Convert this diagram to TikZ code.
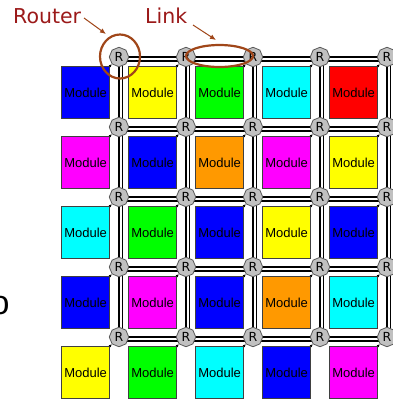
\documentclass[tikz,border=0pt]{standalone}
\usepackage{fontspec}
\setmainfont{Liberation Sans}
\newfontfamily\dejavu{DejaVu Sans}
\usetikzlibrary{shapes.geometric,arrows.meta,backgrounds}
\definecolor{mblue}{RGB}{0,0,255}
\definecolor{myellow}{RGB}{255,255,0}
\definecolor{mgreen}{RGB}{0,255,0}
\definecolor{mcyan}{RGB}{0,255,255}
\definecolor{mred}{RGB}{255,0,0}
\definecolor{mmagenta}{RGB}{255,0,255}
\definecolor{morange}{RGB}{255,153,0}
\definecolor{lblred}{RGB}{155,25,25}
\definecolor{brn}{RGB}{160,70,25}
\definecolor{rgray}{RGB}{192,192,192}
\tikzset{
  router/.style={regular polygon, regular polygon sides=8, shape border rotate=22.5,
    minimum size=19.5pt, inner sep=0pt, fill=rgray, draw=black!65, line width=0.8pt,
    font=\dejavu\fontsize{12.5}{12.5}\selectfont},
  module/.style={rectangle, minimum width=48pt, minimum height=52pt, inner sep=0pt,
    draw=black!75, line width=0.8pt, anchor=north east,
    font=\fontsize{13}{13}\selectfont},
  link/.style={line width=2.6pt, black},
  thinlink/.style={line width=1.1pt, black},
  modlink/.style={line width=0.9pt, black, -{Latex[length=3pt,width=3pt]}},
  lbl/.style={text=lblred, font=\dejavu\fontsize{20.5}{22}\selectfont, inner sep=0pt},
  ring/.style={draw=brn, line width=2.2pt, ellipse, inner sep=0pt},
  annarrow/.style={draw=brn, line width=1pt, -{Latex[length=6pt,width=5pt]}}
}
\begin{document}
\begin{tikzpicture}[x=1pt,y=-1pt]
\useasboundingbox (0,0) rectangle (392,400);
% routers
\foreach \i in {1,...,5}{
  \foreach \j in {1,...,5}{
    \node[router] (r\i\j) at ({119+67*(\j-1)},{57+70*(\i-1)}) {R};
  }
  \coordinate (e\i) at (398,{57+70*(\i-1)});
}
% links
\begin{scope}[on background layer]
\foreach \i in {1,...,5}{
  \draw[link] (r\i1.center) -- (r\i2.center) -- (r\i3.center) -- (r\i4.center) -- (r\i5.center) -- (e\i);
  \draw[thinlink] ([yshift=-4pt]r\i1.center) -- ([yshift=-4pt]e\i);
}
\foreach \j in {1,...,5}{
  \draw[link] (r1\j.center) -- (r2\j.center) -- (r3\j.center) -- (r4\j.center) -- (r5\j.center);
  \draw[thinlink] ([xshift=3.5pt]r1\j.center) -- ([xshift=3.5pt]r5\j.center);
}
\end{scope}
% modules
\foreach \i/\j/\c in {1/1/mblue,1/2/myellow,1/3/mgreen,1/4/mcyan,1/5/mred,
  2/1/mmagenta,2/2/mblue,2/3/morange,2/4/mmagenta,2/5/myellow,
  3/1/mcyan,3/2/mgreen,3/3/mblue,3/4/myellow,3/5/mblue,
  4/1/mblue,4/2/mmagenta,4/3/mblue,4/4/morange,4/5/mcyan,
  5/1/myellow,5/2/mgreen,5/3/mcyan,5/4/mblue,5/5/mmagenta}{
  \node[module, fill=\c] (m\i\j) at ([xshift=-9pt,yshift=-9pt]r\i\j.center) {Module};
  \draw[modlink] (m\i\j.north east) -- (r\i\j.225);
}
% annotations
\node[lbl, anchor=base west] (lrouter) at (13,23) {Router};
\node[lbl, anchor=base west] (llink) at (145,23) {Link};
\node[ring, minimum width=40pt, minimum height=44pt] (crouter) at (120,56.5) {};
\node[ring, minimum width=67pt, minimum height=22pt] (clink) at (219.5,56) {};
\coordinate (ras) at (84,18);
\coordinate (rae) at (106,34);
\coordinate (las) at (193,25);
\coordinate (lae) at (216,40);
\draw[annarrow] (ras) -- (rae);
\draw[annarrow] (las) -- (lae);
% partial letter at left edge (cut off in the reference too)
\node[font=\fontsize{34}{34}\selectfont, anchor=base, inner sep=0pt] (oo) at (0,314) {o};
\end{tikzpicture}
\end{document}
